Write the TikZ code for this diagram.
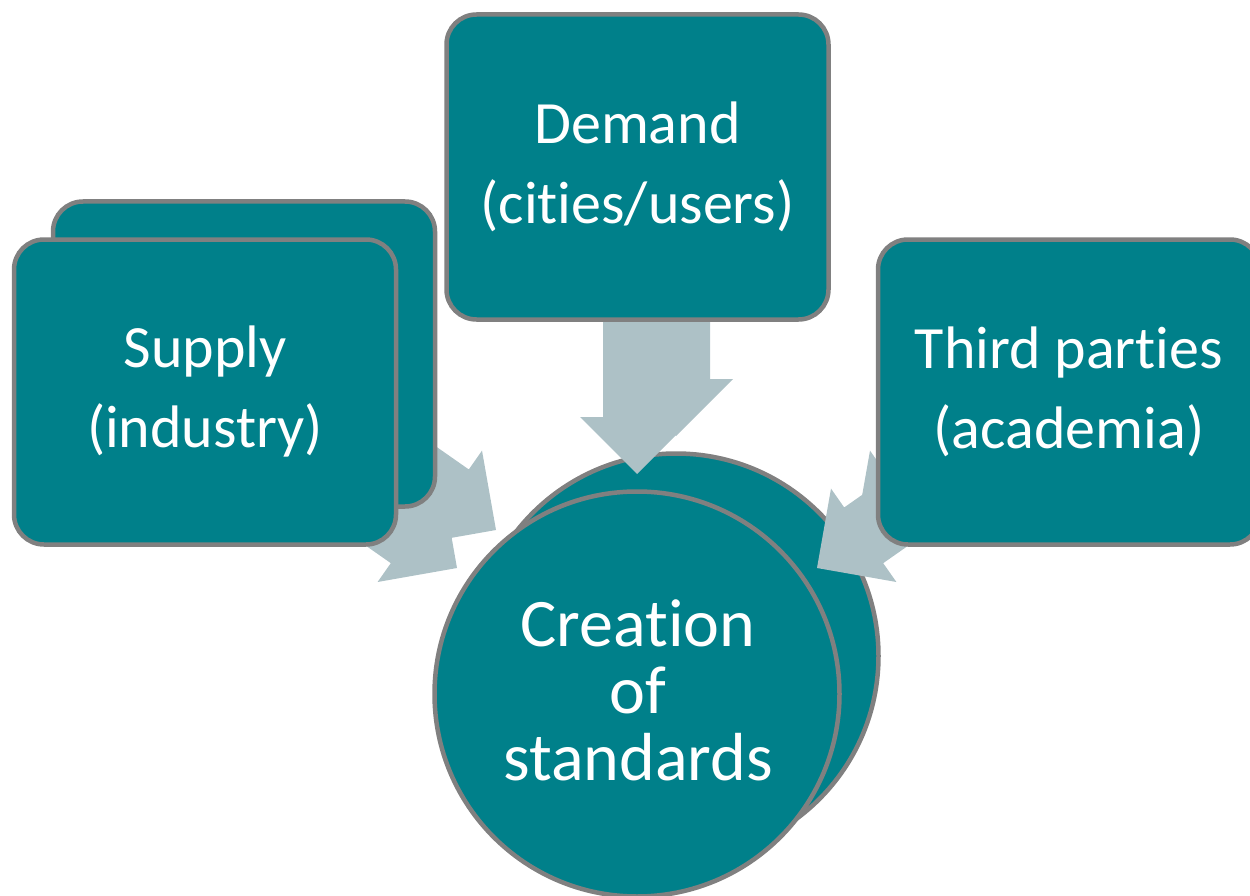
\documentclass[tikz,border=0pt]{standalone}
\usepackage{fontspec}
\setmainfont{Carlito}[Ligatures=NoCommon]
\definecolor{boxteal}{RGB}{0,128,138}
\definecolor{bordergray}{RGB}{128,128,128}
\definecolor{arrowgray}{RGB}{173,193,198}
\newcommand\blkarrow[2]{%
  \fill[arrowgray, shift={(#1)}, rotate=#2]
    (0,0) -- (-57,57) -- (-57,34) -- (-230,34) -- (-230,-34) -- (-57,-34) -- (-57,-57) -- cycle;}
\tikzset{
  box/.style={draw=bordergray, line width=4.5pt, fill=boxteal, rounded corners=30pt,
    minimum width=382pt, minimum height=305pt, text=white,
    font=\fontsize{60}{80}\selectfont, align=center, inner sep=0pt},
  disc/.style={circle, draw=bordergray, line width=4.5pt, fill=boxteal,
    minimum size=405pt, text=white, font=\fontsize{68}{67}\selectfont,
    align=center, inner sep=0pt}
}
\begin{document}
\begin{tikzpicture}[x=1pt,y=-1pt]
\useasboundingbox (0,0) rectangle (1250,896);
\clip (0,0) rectangle (1250,896);
% circles
\node[disc] (cback) at (676,656) {};
\node[disc] (cfront) at (637,694) {};
\node[text=white, font=\fontsize{68}{67}\selectfont, align=center, inner sep=0pt]
  (ctext) at (638,690) {Creation\\of\\standards};
% arrow tips
\coordinate (dtipb) at (676,436);
\coordinate (dtipf) at (637,474);
\coordinate (stipb) at (496,530);
\coordinate (stipf) at (457,568);
\coordinate (ttipb) at (856,530);
\coordinate (ttipf) at (817,568);
\blkarrow{dtipb}{-90}
\blkarrow{dtipf}{-90}
\blkarrow{stipb}{-35}
\blkarrow{stipf}{-35}
\blkarrow{ttipb}{215}
\blkarrow{ttipf}{215}
% boxes
\node[box] (sback) at (244,354) {};
\node[text=white, font=\fontsize{60}{80}\selectfont, anchor=east, inner sep=0pt] (sbackt) at (403,411) {)};
\node[box] (sfront) at (205,392) {Supply\\(industry)};
\node[box] (demand) at (637.5,167) {Demand\\(cities/users)};
\node[box] (third) at (1069,392) {Third parties\\(academia)};
\end{tikzpicture}
\end{document}
